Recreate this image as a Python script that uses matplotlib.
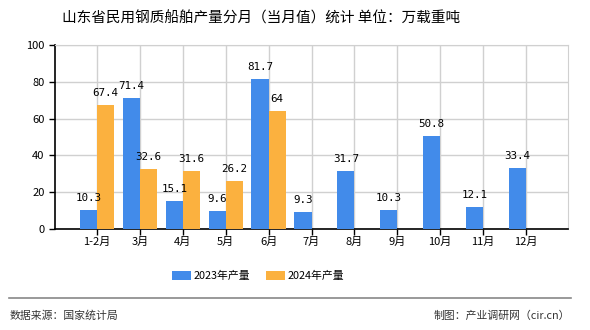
import matplotlib.pyplot as plt
import numpy as np

plt.rcParams["font.family"] = ["Noto Sans CJK SC", "DejaVu Sans"]

months = ["1-2月", "3月", "4月", "5月", "6月", "7月", "8月", "9月", "10月", "11月", "12月"]
output_2023 = [10.3, 71.4, 15.1, 9.6, 81.7, 9.3, 31.7, 10.3, 50.8, 12.1, 33.4]
output_2024 = [67.4, 32.6, 31.6, 26.2, 64, None, None, None, None, None, None]
series_names = ["2023年产量", "2024年产量"]
y_ticks = [0, 20, 40, 60, 80, 100]

blue = "#428BEA"
orange = "#FBB13F"


def fmt(v):
    return f"{v:g}"


fig = plt.figure(figsize=(5.9, 3.3), dpi=100)
ax = fig.add_axes([55 / 590, 1 - 229 / 330, 513 / 590, 184 / 330])

x = np.arange(len(months))
width = 0.4
for vals, offset, color, name in [
    (output_2023, -width / 2, blue, series_names[0]),
    (output_2024, width / 2, orange, series_names[1]),
]:
    xs = [xi + offset for xi, v in zip(x, vals) if v is not None]
    vs = [v for v in vals if v is not None]
    bars = ax.bar(xs, vs, width, color=color, label=name, zorder=3)
    for b, v in zip(bars, vs):
        ax.annotate(fmt(v), (b.get_x() + b.get_width() / 2, v), xytext=(0, 5),
                    textcoords="offset points", ha="center", va="bottom",
                    fontsize=7.8, family=["DejaVu Sans Mono"], zorder=4)

ax.set_xlim(-0.98, len(months) - 0.02)
ax.set_ylim(0, 100)
ax.set_yticks(y_ticks)
ax.set_xticks(x, months)
ax.tick_params(axis="both", labelsize=8, length=4, width=1, color="black")
ax.tick_params(axis="x", pad=2)
ax.grid(True, color="#d0d0d0", linewidth=1, zorder=0)
for side in ["top", "right"]:
    ax.spines[side].set_color("#d0d0d0")
for side in ["left", "bottom"]:
    ax.spines[side].set_color("black")
    ax.spines[side].set_linewidth(1.2)

fig.text(261 / 590, 1 - 18 / 330, "山东省民用钢质船舶产量分月（当月值）统计 单位：万载重吨",
         ha="center", va="center", fontsize=10.5)

leg = fig.legend(loc="center", bbox_to_anchor=(258 / 590, 1 - 276 / 330), ncol=2,
                 frameon=False, fontsize=7.8, handlelength=1.75, handleheight=0.9,
                 handletextpad=0.3, columnspacing=1.4)

fig.add_artist(plt.Line2D([9 / 590, 571 / 590], [1 - 298 / 330] * 2, color="#888888", linewidth=1.2))
fig.text(10 / 590, 1 - 316 / 330, "数据来源：国家统计局", ha="left", va="center", fontsize=7.8, color="#333333")
fig.text(570 / 590, 1 - 316 / 330, "制图：产业调研网（cir.cn）", ha="right", va="center", fontsize=7.8, color="#333333")

fig.savefig("out.png", dpi=100)
